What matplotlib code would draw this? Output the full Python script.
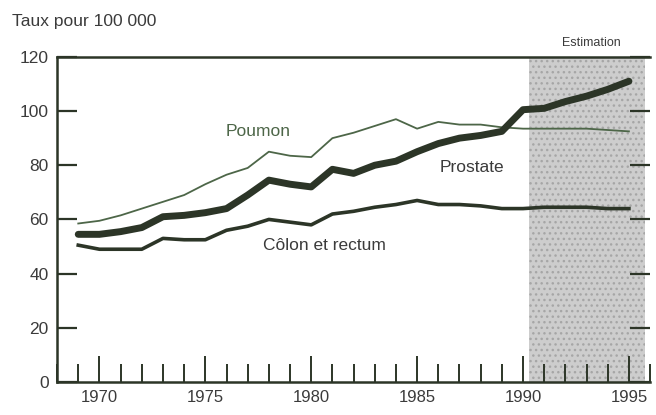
import matplotlib.pyplot as plt
from matplotlib.ticker import MultipleLocator

years = list(range(1969, 1996))
poumon = [58.5, 59.5, 61.5, 64, 66.5, 69, 73, 76.5, 79, 85, 83.5, 83, 90, 92, 94.5,
          97, 93.5, 96, 95, 95, 94, 93.5, 93.5, 93.5, 93.5, 93, 92.5]
prostate = [54.5, 54.5, 55.5, 57, 61, 61.5, 62.5, 64, 69, 74.5, 73, 72, 78.5, 77, 80,
            81.5, 85, 88, 90, 91, 92.5, 100.5, 101, 103.5, 105.5, 108, 111]
colon = [50.5, 49, 49, 49, 53, 52.5, 52.5, 56, 57.5, 60, 59, 58, 62, 63, 64.5,
         65.5, 67, 65.5, 65.5, 65, 64, 64, 64.5, 64.5, 64.5, 64, 64]
estim_start, estim_end = 1990.3, 1995.75

plt.rcParams['font.family'] = ['Liberation Sans', 'DejaVu Sans']
dark = '#2c3527'
txt = '#3b3b3b'

fig = plt.figure(figsize=(6.56, 4.15), dpi=100)
ax = fig.add_axes([0.087, 0.0795, 0.904, 0.7835])

# zone d'estimation (fond gris pointillé)
ax.axvspan(estim_start, estim_end, color='#cdcdcd', lw=0, zorder=0)
ax.axvspan(estim_start, estim_end, facecolor='none', edgecolor='#a6a6a6', hatch='...', lw=0, zorder=0)

ax.plot(years, poumon, color='#4d6648', lw=1.3, zorder=3)
ax.plot(years, colon, color=dark, lw=2.6, zorder=3)
ax.plot(years, prostate, color=dark, lw=5, solid_capstyle='round', zorder=4)

ax.text(1977.5, 92.5, 'Poumon', fontsize=12.5, color='#4d6648', ha='center', va='center')
ax.text(1987.6, 79, 'Prostate', fontsize=12.5, color=txt, ha='center', va='center')
ax.text(1977.7, 50.5, 'Côlon et rectum', fontsize=12.5, color=txt, ha='left', va='center')

ax.set_xlim(1968, 1996)
ax.set_ylim(0, 120)
ax.set_xticks(range(1970, 1996, 5))
ax.xaxis.set_minor_locator(MultipleLocator(1))
ax.set_yticks(range(0, 121, 20))

ax.tick_params(axis='x', which='major', direction='in', length=19, width=1.4,
               color=dark, labelsize=12, labelcolor=txt, pad=6)
ax.tick_params(axis='x', which='minor', direction='in', length=13, width=1.4, color=dark)
ax.tick_params(axis='y', direction='in', length=14.5, width=1.6, color=dark,
               labelsize=12.5, labelcolor=txt, right=True, pad=6)

for s in ['left', 'bottom', 'top']:
    ax.spines[s].set_color(dark)
    ax.spines[s].set_linewidth(1.8)
ax.spines['right'].set_visible(False)

fig.text(0.018, 0.947, 'Taux pour 100 000', fontsize=12.5, color=txt, va='center')
fig.text(0.902, 0.896, 'Estimation', fontsize=9, color=txt, ha='center', va='center')

fig.savefig('out.png', dpi=100, facecolor='white')
